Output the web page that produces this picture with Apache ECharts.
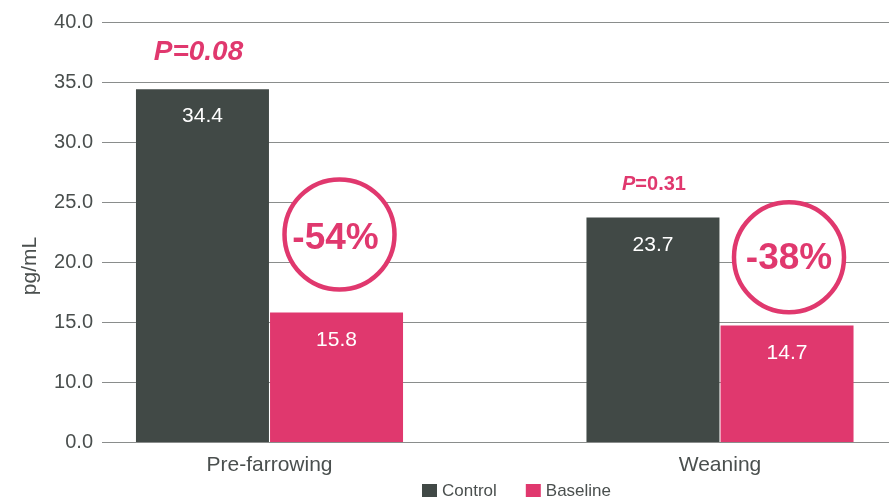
<!DOCTYPE html>
<html><head><meta charset="utf-8">
<script src="https://cdn.jsdelivr.net/npm/echarts@6/dist/echarts.min.js"></script>
<style>html,body{margin:0;padding:0;background:#fff}#c{width:889px;height:497px}</style>
</head><body><div id="c"></div>
<script>
const categories = ['Pre-farrowing', 'Weaning'];
const controlValues = [34.4, 23.7];
const baselineValues = [15.8, 14.7];
const yTickLabels = [0, 10, 15, 20, 25, 30, 35, 40];
const pValues = ['0.08', '0.31'];
const reductions = ['-54%', '-38%'];

const FONT = "'Liberation Sans', Arial, sans-serif";
const DARK = '#414946';
const PINK = '#e0386e';
const TXT = '#4a4f4e';

// broken axis: 0-10 is compressed into the space of one 5-unit band
function toPos(v) { return v >= 10 ? v - 5 : v / 2; }
function fromPos(p) { return p >= 5 ? p + 5 : p * 2; }

const chart = echarts.init(document.getElementById('c'), null, {renderer: 'canvas'});
const option = {
  animation: false,
  textStyle: {fontFamily: FONT},
  grid: [
    {left: 102, right: 0, top: 22, bottom: 55},
    {left: 269.5, right: 169, top: 22, bottom: 55}
  ],
  xAxis: [
    {gridIndex: 0, type: 'category', data: categories, show: false},
    {gridIndex: 1, type: 'category', data: categories, boundaryGap: false,
     axisLine: {show: false}, axisTick: {show: false},
     axisLabel: {color: TXT, fontSize: 21, margin: 13, fontFamily: FONT}}
  ],
  yAxis: [
    {gridIndex: 0, type: 'value', min: 0, max: 35, interval: 5,
     axisLine: {show: false}, axisTick: {show: false},
     axisLabel: {color: TXT, fontSize: 20, margin: 9, fontFamily: FONT,
       formatter: function (p) {
         const v = fromPos(p);
         return yTickLabels.indexOf(v) >= 0 ? v.toFixed(1) : '';
       }},
     splitLine: {lineStyle: {color: '#8a8d8c', width: 1.2}}},
    {gridIndex: 1, type: 'value', min: 0, max: 35, show: false}
  ],
  legend: {
    data: ['Control', 'Baseline'], left: 417, top: 478,
    icon: 'rect', itemWidth: 15, itemHeight: 15, itemGap: 29,
    textStyle: {color: TXT, fontSize: 17, fontFamily: FONT}
  },
  series: [
    {name: 'Control', type: 'bar', xAxisIndex: 1, yAxisIndex: 1, clip: false,
     data: controlValues.map(toPos), barWidth: 133, barGap: '0.8%',
     itemStyle: {color: DARK},
     label: {show: true, position: 'insideTop', distance: 17, color: '#fff', fontSize: 21, fontFamily: FONT,
       formatter: function (d) { return controlValues[d.dataIndex].toFixed(1); }}},
    {name: 'Baseline', type: 'bar', xAxisIndex: 1, yAxisIndex: 1, clip: false,
     data: baselineValues.map(toPos), barWidth: 133,
     itemStyle: {color: PINK},
     label: {show: true, position: 'insideTop', distance: 17, color: '#fff', fontSize: 21, fontFamily: FONT,
       formatter: function (d) { return baselineValues[d.dataIndex].toFixed(1); }}}
  ]
};
chart.setOption(option);

// annotations anchored to bar positions
function px(cat, v) { return chart.convertToPixel({xAxisIndex: 1, yAxisIndex: 1}, [cat, toPos(v)]); }
const half = 67;
const c0 = px(0, 37.5), c1 = px(1, 26.5);
const r0 = px(0, 22.3), r1 = px(1, 20.4);
const graphic = [
  {type: 'text', x: 30, y: 266, rotation: Math.PI / 2,
   style: {text: 'pg/mL', font: '21px ' + FONT, fill: TXT, textAlign: 'center', textVerticalAlign: 'middle'}},
  {type: 'text', x: c0[0] - half - 4, y: c0[1],
   style: {text: 'P=' + pValues[0], font: 'italic bold 28px ' + FONT, fill: PINK, textAlign: 'center', textVerticalAlign: 'middle'}},
  {type: 'text', x: c1[0] - half + 1, y: c1[1],
   style: {rich: {i: {fontStyle: 'italic', fontWeight: 'bold', fontSize: 20, fontFamily: FONT, fill: PINK},
                  n: {fontWeight: 'bold', fontSize: 20, fontFamily: FONT, fill: PINK}},
           text: '{i|P}{n|=' + pValues[1] + '}', textAlign: 'center', textVerticalAlign: 'middle'}},
  {type: 'circle', shape: {cx: r0[0] + half + 3, cy: r0[1], r: 55},
   style: {fill: '#fff', stroke: PINK, lineWidth: 4.5}},
  {type: 'text', x: r0[0] + half - 1, y: r0[1] + 4,
   style: {text: reductions[0], font: 'bold 37px ' + FONT, fill: PINK, textAlign: 'center', textVerticalAlign: 'middle'}},
  {type: 'circle', shape: {cx: r1[0] + half + 2, cy: r1[1], r: 55},
   style: {fill: '#fff', stroke: PINK, lineWidth: 4.5}},
  {type: 'text', x: r1[0] + half + 2, y: r1[1] + 2,
   style: {text: reductions[1], font: 'bold 37px ' + FONT, fill: PINK, textAlign: 'center', textVerticalAlign: 'middle'}}
];
chart.setOption({graphic: graphic});
</script></body></html>
